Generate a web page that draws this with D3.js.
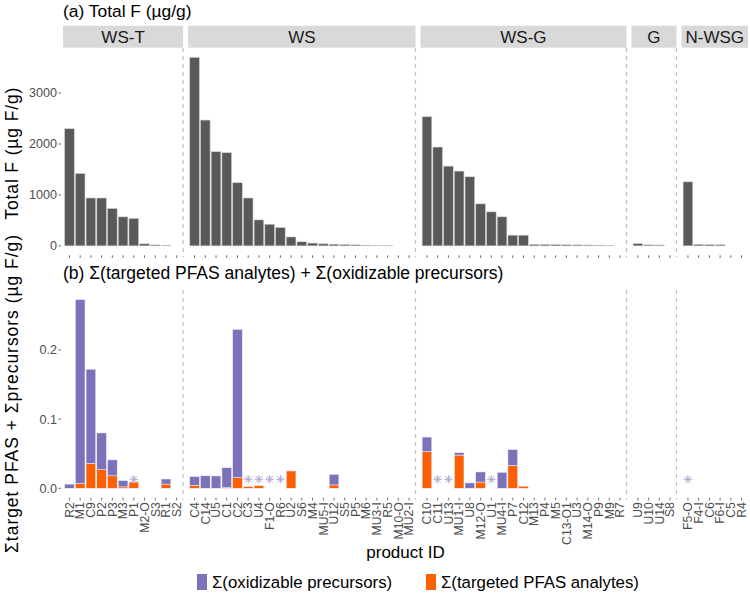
<!DOCTYPE html>
<html>
<head>
<meta charset="utf-8">
<script src="https://cdn.jsdelivr.net/npm/d3@7"></script>
<style>
  html, body { margin: 0; padding: 0; background: #fff; }
  svg { display: block; font-family: "Liberation Sans", Arial, sans-serif; }
</style>
</head>
<body>
<svg id="chart" width="750" height="596"></svg>
<script>
// ---------------- DATA ----------------
const facetNames = ["WS-T", "WS", "WS-G", "G", "N-WSG"];

const productsWST = ["R2","M1","C9","P2","P3","M3","P1","M2-O","S3","R1","S2"];
const totalFWST   = [2300,1420,940,940,735,570,540,40,20,15,0];
const targetedWST = [0,0.0067,0.036,0.027,0.018,0.002,0.009,0,0,0.006,0];
const precursWST  = [0.006,0.266,0.136,0.053,0.023,0.009,0.0005,0,0,0.0074,0];
const flaggedWST  = ["P1"];

const productsWS = ["C4","C14","U5","C1","C2","C3","U4","F1-O","R6","U2","S6","M4","MU5-I","U12","S5","P5","M6","MU3-I","R5","M10-O","MU2-I"];
const totalFWS   = [3700,2470,1850,1830,1240,940,510,425,360,175,80,55,40,33,26,20,15,12,10,0,0];
const targetedWS = [0.0043,0,0,0.001,0.0154,0.0024,0.0038,0,0,0.025,0,0,0,0.0048,0,0,0,0,0,0,0];
const precursWS  = [0.0125,0.018,0.0178,0.0288,0.2143,0,0,0,0,0,0,0,0,0.0152,0,0,0,0,0,0,0];
const flaggedWS  = ["C3","U4","F1-O","R6"];

const productsWSG = ["C10","C11","U13","MU1-I","U8","M12-O","U1","MU4-I","P7","C12","M13","P4","M5","C13-O1","U3","M14-O","P9","M9","R7"];
const totalFWSG   = [2535,1940,1566,1468,1356,825,668,570,210,210,30,28,25,22,20,18,15,12,0];
const targetedWSG = [0.053,0,0,0.048,0,0.009,0,0,0.033,0.003,0,0,0,0,0,0,0,0,0];
const precursWSG  = [0.021,0,0,0.0035,0.0077,0.0146,0,0.023,0.0228,0,0,0,0,0,0,0,0,0,0];
const flaggedWSG  = ["C11","U13","U1"];

const productsG = ["U9","U10","U14","S8"];
const totalFG   = [45,20,18,0];
const targetedG = [0,0,0,0];
const precursG  = [0,0,0,0];
const flaggedG  = [];

const productsNWSG = ["F5-O","F4-I","C6","F6-I","C5","R4"];
const totalFNWSG   = [1257,30,25,22,0,0];
const targetedNWSG = [0,0,0,0,0,0];
const precursNWSG  = [0,0,0,0,0,0];
const flaggedNWSG  = ["F5-O"];

const ticksTop = [0, 1000, 2000, 3000];
const ticksBottom = [0, 0.1, 0.2];
const flagLevel = 0.013;

const seriesNames = ["Σ(oxidizable precursors)", "Σ(targeted PFAS analytes)"];
const seriesColors = { precursors: "#7b72b9", targeted: "#fd6000" };

// ---------------- BUILD ----------------
const facetData = [
  [productsWST, totalFWST, targetedWST, precursWST, flaggedWST],
  [productsWS, totalFWS, targetedWS, precursWS, flaggedWS],
  [productsWSG, totalFWSG, targetedWSG, precursWSG, flaggedWSG],
  [productsG, totalFG, targetedG, precursG, flaggedG],
  [productsNWSG, totalFNWSG, targetedNWSG, precursNWSG, flaggedNWSG]
].map((d, i) => ({
  name: facetNames[i],
  rows: d[0].map((p, j) => ({ product: p, total: d[1][j], targeted: d[2][j], precursors: d[3][j], flagged: d[4].includes(p) }))
}));

const svg = d3.select("#chart");
const textGray = "#4d4d4d";

const plotLeft = 63, plotRight = 748, gap = 5;
const nUnits = d3.sum(facetData, f => f.rows.length + 0.2);
const unit = (plotRight - plotLeft - gap * (facetData.length - 1)) / nUnits;
let cx = plotLeft;
facetData.forEach(f => {
  const w = (f.rows.length + 0.2) * unit;
  f.x0 = cx; f.x1 = cx + w;
  f.x = d3.scaleBand().domain(f.rows.map(r => r.product)).range([f.x0, f.x1]).paddingInner(0.1).paddingOuter(0.15);
  cx += w + gap;
});

const topPanel = { y0: 48, y1: 255.3 };
const botPanel = { y0: 290.2, y1: 497.7 };

const allRows = facetData.flatMap(f => f.rows);
const maxTotal = d3.max(allRows, r => r.total);
const yTop = d3.scaleLinear().domain([-0.05 * maxTotal, 1.05 * maxTotal]).range([topPanel.y1, topPanel.y0]);
const maxStack = d3.max(allRows, r => r.targeted + r.precursors);
const yBot = d3.scaleLinear().domain([-0.05 * maxStack, 1.05 * maxStack]).range([botPanel.y1, botPanel.y0]);

// titles
svg.append("text").attr("x", 63).attr("y", 16.5).attr("font-size", 17.4).attr("fill", "#000")
  .text("(a) Total F (µg/g)");
svg.append("text").attr("x", 63).attr("y", 279).attr("font-size", 17.5).attr("fill", "#000")
  .text("(b) Σ(targeted PFAS analytes) + Σ(oxidizable precursors)");

// strips
facetData.forEach(f => {
  svg.append("rect").attr("x", f.x0).attr("y", 25.7).attr("width", f.x1 - f.x0).attr("height", 22)
    .attr("fill", "#d9d9d9");
  svg.append("text").attr("x", (f.x0 + f.x1) / 2).attr("y", 42.6).attr("text-anchor", "middle")
    .attr("font-size", 17).attr("fill", "#1a1a1a").text(f.name);
});

// dashed separators
facetData.slice(0, -1).forEach(f => {
  [topPanel, botPanel].forEach(p => {
    svg.append("line").attr("x1", f.x1).attr("x2", f.x1).attr("y1", p.y0).attr("y2", p.y1 + 2)
      .attr("stroke", "#c0c0c0").attr("stroke-width", 1.2).attr("stroke-dasharray", "4,4");
  });
});

// top bars
facetData.forEach(f => {
  svg.append("g").selectAll("rect").data(f.rows.filter(r => r.total > 0)).join("rect")
    .attr("x", r => f.x(r.product)).attr("width", f.x.bandwidth())
    .attr("y", r => yTop(r.total)).attr("height", r => yTop(0) - yTop(r.total))
    .attr("fill", "#595959").attr("stroke", "#d0d0d0").attr("stroke-width", 0.6);
});

// bottom stacked bars
const stack = d3.stack().keys(["targeted", "precursors"]);
facetData.forEach(f => {
  const layers = stack(f.rows);
  layers.forEach(layer => {
    svg.append("g").selectAll("rect").data(layer.filter(d => d[1] - d[0] > 0)).join("rect")
      .attr("x", d => f.x(d.data.product)).attr("width", f.x.bandwidth())
      .attr("y", d => yBot(d[1])).attr("height", d => yBot(d[0]) - yBot(d[1]))
      .attr("fill", seriesColors[layer.key]).attr("stroke", "#f2efff").attr("stroke-width", 0.5);
  });
  const r = 4.2;
  svg.append("g").selectAll("path").data(f.rows.filter(d => d.flagged)).join("path")
    .attr("transform", d => `translate(${f.x(d.product) + f.x.bandwidth() / 2},${yBot(flagLevel)})`)
    .attr("d", () => {
      const p = d3.path();
      p.moveTo(-r, 0); p.lineTo(r, 0);
      p.moveTo(0, -r); p.lineTo(0, r);
      const k = r * 0.72;
      p.moveTo(-k, -k); p.lineTo(k, k);
      p.moveTo(-k, k); p.lineTo(k, -k);
      return p.toString();
    })
    .attr("stroke", "#a9a4cc").attr("stroke-width", 1).attr("fill", "none");
});

// y axes
function yAxis(scale, ticks, fmt) {
  const g = svg.append("g");
  ticks.forEach(t => {
    const y = scale(t);
    g.append("line").attr("x1", 58.3).attr("x2", 61).attr("y1", y).attr("y2", y).attr("stroke", "#4d4d4d").attr("stroke-width", 0.8);
    g.append("text").attr("x", 57).attr("y", y).attr("dy", "0.35em").attr("text-anchor", "end")
      .attr("font-size", 12.6).attr("fill", textGray).text(fmt(t));
  });
}
yAxis(yTop, ticksTop, d3.format("d"));
yAxis(yBot, ticksBottom, d3.format(".1f"));

// x ticks and labels
facetData.forEach(f => {
  f.rows.forEach(r => {
    const x = f.x(r.product) + f.x.bandwidth() / 2;
    [topPanel, botPanel].forEach(p => {
      svg.append("line").attr("x1", x).attr("x2", x).attr("y1", p.y1).attr("y2", p.y1 + 2.7)
        .attr("stroke", "#4d4d4d").attr("stroke-width", 0.8);
    });
    svg.append("text").attr("transform", `translate(${x},${botPanel.y1 + 4.5}) rotate(-90)`)
      .attr("text-anchor", "end").attr("dy", "0.35em").attr("font-size", 12.2).attr("fill", textGray)
      .text(r.product);
  });
});

// axis titles
svg.append("text").attr("transform", `translate(18,${(topPanel.y0 + topPanel.y1) / 2 + 2}) rotate(-90)`)
  .attr("text-anchor", "middle").attr("font-size", 17.5).attr("fill", "#000")
  .attr("textLength", 132).attr("lengthAdjust", "spacing").text("Total F (µg F/g)");
svg.append("text").attr("transform", `translate(18,${(botPanel.y0 + botPanel.y1) / 2}) rotate(-90)`)
  .attr("text-anchor", "middle").attr("font-size", 17.5).attr("fill", "#000")
  .attr("textLength", 318).attr("lengthAdjust", "spacing").text("Σtarget PFAS + Σprecursors (µg F/g)");
svg.append("text").attr("x", (plotLeft + plotRight) / 2).attr("y", 558).attr("text-anchor", "middle")
  .attr("font-size", 17).attr("fill", "#000").text("product ID");

// legend
const legendItems = [
  { label: seriesNames[0], color: seriesColors.precursors, x: 197 },
  { label: seriesNames[1], color: seriesColors.targeted, x: 426 }
];
legendItems.forEach(it => {
  svg.append("rect").attr("x", it.x).attr("y", 574).attr("width", 10).attr("height", 16).attr("fill", it.color);
  svg.append("text").attr("x", it.x + 15).attr("y", 587.5).attr("font-size", 16.8).attr("fill", "#000").text(it.label);
});
</script>
</body>
</html>
